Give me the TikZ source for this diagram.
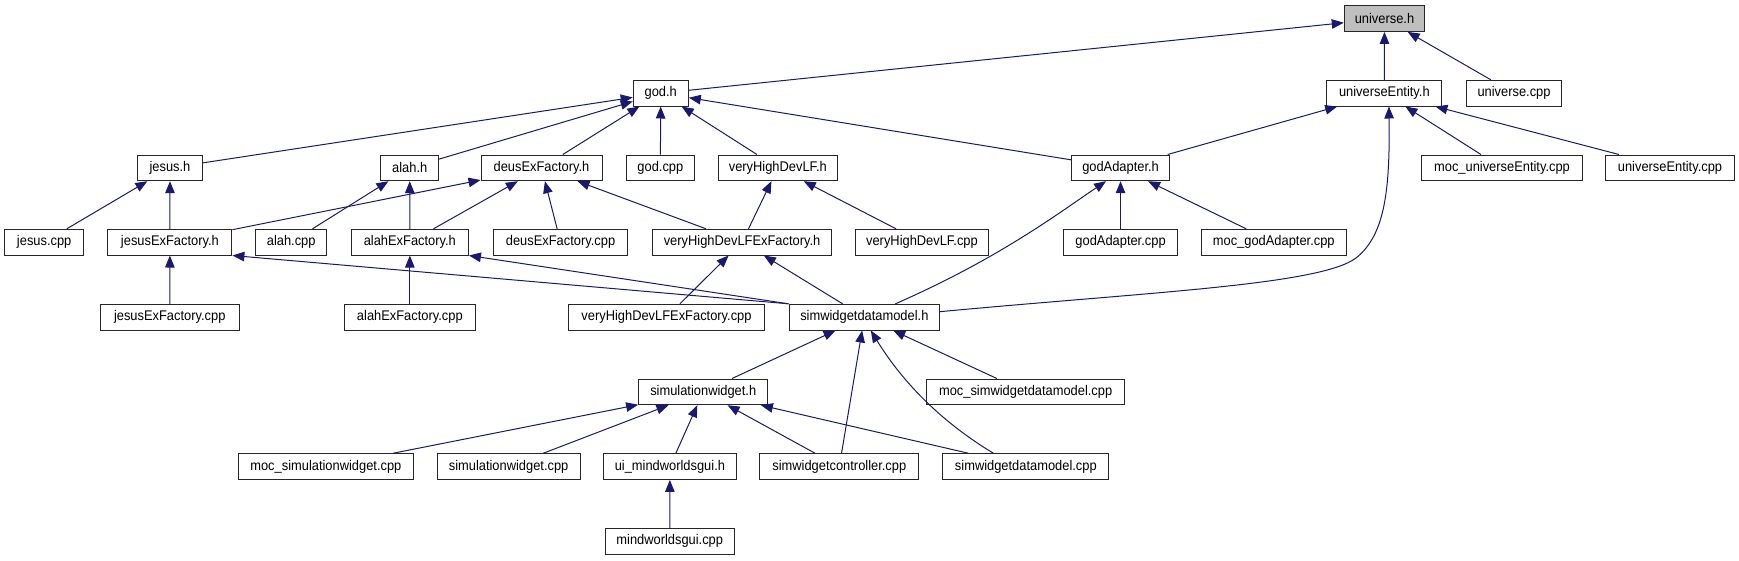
\documentclass[tikz,border=0pt]{standalone}
\usepackage{fontspec}
\setmainfont{Liberation Sans}[FakeStretch=0.92]
\usetikzlibrary{arrows.meta,calc}
\definecolor{edgeblue}{HTML}{191970}
\definecolor{boxgray}{HTML}{BFBFBF}
\begin{document}
\begin{tikzpicture}[x=1pt,y=-1pt,
  file/.style={draw=black!85, line width=1pt, fill=white, minimum height=25.7pt,
    inner sep=0pt, font=\fontsize{14}{16}\selectfont},
  dep/.style={draw=edgeblue, line width=1pt, {Triangle[length=12pt,width=9.5pt]}-}]
\useasboundingbox (0,0) rectangle (1739,560);
% row 0
\node[file, fill=boxgray, minimum width=80.5pt] (universe) at (1384.5,18.55) {universe.h};
% row 1
\node[file, minimum width=55.1pt] (god) at (660.75,93.15) {god.h};
\node[file, minimum width=114.9pt] (ue) at (1384.35,93.15) {universeEntity.h};
\node[file, minimum width=95pt] (ucpp) at (1514,93.15) {universe.cpp};
% row 2
\node[file, minimum width=64.3pt] (jesus) at (170,167.85) {jesus.h};
\node[file, minimum width=57.8pt] (alah) at (409.7,167.85) {alah.h};
\node[file, minimum width=121pt] (deus) at (541.5,167.85) {deusExFactory.h};
\node[file, minimum width=68.1pt] (godcpp) at (660.35,167.85) {god.cpp};
\node[file, minimum width=118.7pt] (vhd) at (777.85,167.85) {veryHighDevLF.h};
\node[file, minimum width=98.3pt] (ga) at (1120.55,167.85) {godAdapter.h};
\node[file, minimum width=160.3pt] (mocue) at (1502,167.85) {moc\_universeEntity.cpp};
\node[file, minimum width=128.5pt] (uecpp) at (1670,167.85) {universeEntity.cpp};
% row 3
\node[file, minimum width=79.2pt] (jesuscpp) at (44.2,242.15) {jesus.cpp};
\node[file, minimum width=124pt] (jef) at (169.9,242.15) {jesusExFactory.h};
\node[file, minimum width=71.2pt] (alahcpp) at (291.2,242.15) {alah.cpp};
\node[file, minimum width=117.1pt] (aef) at (409.85,242.15) {alahExFactory.h};
\node[file, minimum width=134.5pt] (deuscpp) at (560.55,242.15) {deusExFactory.cpp};
\node[file, minimum width=178.7pt] (vef) at (742.05,242.15) {veryHighDevLFExFactory.h};
\node[file, minimum width=132.1pt] (vhdcpp) at (921.95,242.15) {veryHighDevLF.cpp};
\node[file, minimum width=113.7pt] (gacpp) at (1120.55,242.15) {godAdapter.cpp};
\node[file, minimum width=145.5pt] (mocga) at (1273.75,242.15) {moc\_godAdapter.cpp};
% row 4
\node[file, minimum width=138.9pt] (jefcpp) at (169.75,317.15) {jesusExFactory.cpp};
\node[file, minimum width=130.9pt] (aefcpp) at (409.85,317.15) {alahExFactory.cpp};
\node[file, minimum width=196pt] (vefcpp) at (666.5,317.15) {veryHighDevLFExFactory.cpp};
\node[file, minimum width=150.7pt] (sdm) at (864.35,317.15) {simwidgetdatamodel.h};
% row 5
\node[file, minimum width=129.3pt] (sw) at (703.25,391.85) {simulationwidget.h};
\node[file, minimum width=197.9pt] (msdm) at (1025.65,391.85) {moc\_simwidgetdatamodel.cpp};
% row 6
\node[file, minimum width=174.9pt] (msw) at (325.85,466.55) {moc\_simulationwidget.cpp};
\node[file, minimum width=143.2pt] (swcpp) at (508.6,466.55) {simulationwidget.cpp};
\node[file, minimum width=132.4pt] (ui) at (669.9,466.55) {ui\_mindworldsgui.h};
\node[file, minimum width=158.8pt] (swctl) at (839.3,466.55) {simwidgetcontroller.cpp};
\node[file, minimum width=166.1pt] (sdmcpp) at (1025.85,466.55) {simwidgetdatamodel.cpp};
% row 7
\node[file, minimum width=128.9pt] (mwg) at (669.75,541.15) {mindworldsgui.cpp};

% edges (arrow at the included header)
\draw[dep] (universe) -- (god);
\draw[dep] (universe) -- (ue);
\draw[dep] (universe) -- (ucpp);
\draw[dep] (god) -- (jesus);
\draw[dep] (god) -- (alah);
\draw[dep] (god) -- (deus);
\draw[dep] (god) -- (godcpp);
\draw[dep] (god) -- (vhd);
\draw[dep] (god) -- (ga);
\draw[dep] (ue) -- (ga);
\draw[dep] (ue) -- (mocue);
\draw[dep] (ue) -- (uecpp);
\coordinate (bendA) at (1356,258);
\draw[dep] ([xshift=4.6pt]ue.south) .. controls (1390,190) and (1385,235) .. (bendA)
  .. controls (1320,285) and (1150,292) .. ([yshift=5.5pt]sdm.east);
\draw[dep] (jesus) -- (jesuscpp);
\draw[dep] (jesus) -- (jef);
\draw[dep] (deus) -- (jef);
\draw[dep] (alah) -- (alahcpp);
\draw[dep] (alah) -- (aef);
\draw[dep] (deus) -- (aef);
\draw[dep] (deus) -- (deuscpp);
\draw[dep] (deus) -- (vef);
\draw[dep] (vhd) -- (vef);
\draw[dep] (vhd) -- (vhdcpp);
\draw[dep] (ga) -- (gacpp);
\draw[dep] (ga) -- (mocga);
\draw[dep] ([xshift=-14.5pt]ga.south) .. controls (1060,212) and (1000,258) .. ([xshift=31pt]sdm.north);
\draw[dep] (jef) -- (jefcpp);
\draw[dep] (jef.south east) -- (sdm.north west);
\draw[dep] (aef) -- (aefcpp);
\draw[dep] (aef.south east) -- (sdm.north west);
\draw[dep] (vef) -- (vefcpp);
\draw[dep] (vef) -- (sdm);
\draw[dep] (sdm) -- (sw);
\draw[dep] (sdm) -- (swctl);
\draw[dep] ([xshift=6.5pt]sdm.south) .. controls (895,370) and (930,415) .. ([xshift=-32.5pt]sdmcpp.north);
\draw[dep] (sdm) -- (msdm);
\draw[dep] (sw) -- (msw);
\draw[dep] (sw) -- (swcpp);
\draw[dep] (sw) -- (ui);
\draw[dep] (sw) -- (swctl);
\draw[dep] (sw) -- (sdmcpp);
\draw[dep] (ui) -- (mwg);
\end{tikzpicture}
\end{document}
